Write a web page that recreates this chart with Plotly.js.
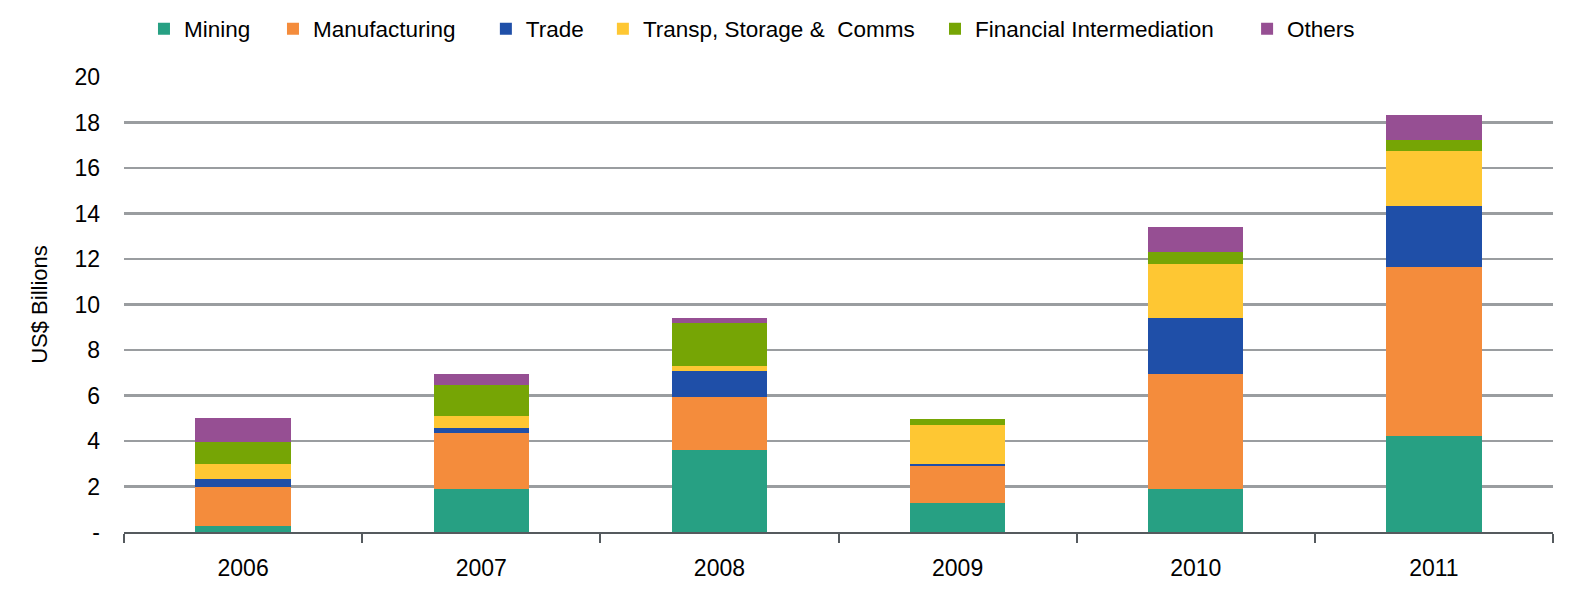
<!DOCTYPE html>
<html>
<head>
<meta charset="utf-8">
<script src="https://cdn.plot.ly/plotly-3.0.1.min.js"></script>
<style>
  html, body { margin: 0; padding: 0; background: #fff; }
  #graph { width: 1577px; height: 596px; }
</style>
</head>
<body>
<div id="graph"></div>
<script>
// years on the x axis
const years = ['2006', '2007', '2008', '2009', '2010', '2011'];

// US$ billions per sector
const mining        = [0.27, 1.90, 3.60, 1.28, 1.90, 4.22];
const manufacturing = [1.73, 2.45, 2.34, 1.60, 5.05, 7.45];
const trade         = [0.35, 0.22, 1.13, 0.12, 2.47, 2.68];
const transport     = [0.65, 0.52, 0.24, 1.72, 2.36, 2.38];
const financial     = [0.97, 1.36, 1.86, 0.25, 0.51, 0.51];
const others        = [1.02, 0.50, 0.25, 0.00, 1.10, 1.11];

const yTicks = [0, 2, 4, 6, 8, 10, 12, 14, 16, 18, 20];
const yTickText = ['-', '2', '4', '6', '8', '10', '12', '14', '16', '18', '20'];

const series = [
    {name: 'Mining', y: mining, color: '#27A083'},
    {name: 'Manufacturing', y: manufacturing, color: '#F48C3C'},
    {name: 'Trade', y: trade, color: '#1F4FA8'},
    {name: 'Transp, Storage &  Comms', y: transport, color: '#FEC733'},
    {name: 'Financial Intermediation', y: financial, color: '#76A505'},
    {name: 'Others', y: others, color: '#964F93'},
];

// one legend per entry so the items sit where the original has them (container fractions)
const legendX = [0.0913, 0.1731, 0.3081, 0.3823, 0.5929, 0.7908];

const font = {family: '"Liberation Sans", Arial, sans-serif', color: '#000'};

const traces = series.map((s, i) => ({
    x: years,
    y: s.y,
    name: s.name,
    type: 'bar',
    legend: i === 0 ? 'legend' : 'legend' + (i + 1),
    marker: {color: s.color, line: {width: 0}},
}));

const layout = {
    barmode: 'stack',
    bargap: 0.6,
    width: 1577,
    height: 596,
    margin: {l: 124, r: 24, t: 77, b: 64},
    paper_bgcolor: '#fff',
    plot_bgcolor: '#fff',
    font: {...font, size: 22},
    showlegend: true,
    xaxis: {
        type: 'category',
        showgrid: false,
        showline: true,
        linecolor: '#555a5e',
        linewidth: 2,
        ticks: 'outside',
        tickson: 'boundaries',
        ticklen: 9,
        tickwidth: 2,
        tickcolor: '#555a5e',
        ticklabelstandoff: 14,
        tickfont: {...font, size: 23},
        zeroline: false,
    },
    yaxis: {
        range: [0, 20],
        tickvals: yTicks,
        ticktext: yTickText,
        showgrid: true,
        gridcolor: '#9a9da0',
        gridwidth: 2.5,
        zeroline: false,
        showline: false,
        ticks: '',
        ticklabelstandoff: 23,
        tickfont: {...font, size: 23},
        title: {text: 'US$ Billions', font: {...font, size: 22}, standoff: 20},
    },
};

legendX.forEach((lx, i) => {
    const key = i === 0 ? 'legend' : 'legend' + (i + 1);
    layout[key] = {
        orientation: 'h',
        xref: 'container',
        yref: 'container',
        x: lx,
        xanchor: 'left',
        y: 0.9513,
        yanchor: 'middle',
        itemwidth: 30,
        bgcolor: 'rgba(0,0,0,0)',
        font: {...font, size: 22.5},
    };
});

Plotly.newPlot('graph', traces, layout, {displayModeBar: false, staticPlot: true});
</script>
</body>
</html>
